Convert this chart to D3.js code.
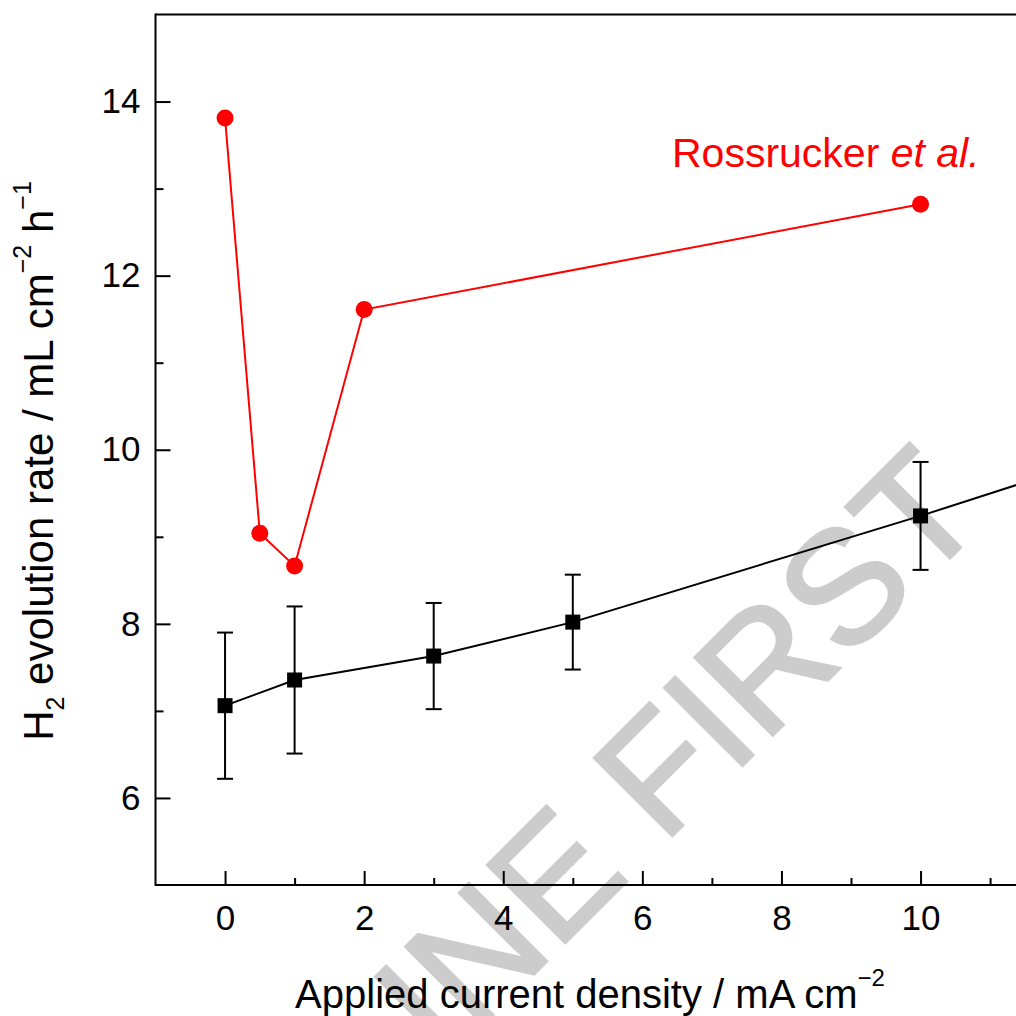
<!DOCTYPE html>
<html><head><meta charset="utf-8">
<script src="https://cdn.jsdelivr.net/npm/d3@7"></script>
<style>
html,body{margin:0;padding:0;background:#fff;overflow:hidden}
svg{display:block;font-family:"Liberation Sans",Arial,sans-serif}
</style></head><body>
<svg id="c" width="1016" height="1016"></svg>
<script>
// ---- data ----
const redX = [0, 0.5, 1, 2, 10];
const redY = [13.81, 9.04, 8.665, 11.61, 12.82];
const blackX = [0, 1, 3, 5, 10, 15];
const blackY = [7.06, 7.355, 7.63, 8.02, 9.24, 10.53];
const blackErr = [0.84, 0.845, 0.61, 0.545, 0.62, 0.6];
const xMajorTicks = [0, 2, 4, 6, 8, 10];
const xMinorTicks = [1, 3, 5, 7, 9, 11];
const yMajorTicks = [6, 8, 10, 12, 14];
const yMinorTicks = [7, 9, 11, 13];

const svg = d3.select("#c");
const x = d3.scaleLinear().domain([-1, 12]).range([155.5, 155.5 + 13 * 69.55]);
const y = d3.scaleLinear().domain([5, 15]).range([885, 14.5]);

// watermark
svg.append("text")
  .attr("transform", "translate(600,908) rotate(-45)")
  .attr("text-anchor", "middle")
  .attr("font-size", 160)
  .attr("fill", "#cccccc")
  .attr("stroke", "#cccccc")
  .attr("stroke-width", 3)
  .text("ONLINE FIRST");

// axes
const gx = svg.append("g").attr("transform", `translate(0,${y(5)})`)
  .call(d3.axisBottom(x).tickValues(xMajorTicks).tickSize(-14).tickPadding(20).tickFormat(d3.format("d")));
const gxm = svg.append("g").attr("transform", `translate(0,${y(5)})`)
  .call(d3.axisBottom(x).tickValues(xMinorTicks).tickSize(-7).tickFormat(""));
const gy = svg.append("g").attr("transform", `translate(${x(-1)},0)`)
  .call(d3.axisLeft(y).tickValues(yMajorTicks).tickSize(-15).tickPadding(15).tickFormat(d3.format("d")));
const gym = svg.append("g").attr("transform", `translate(${x(-1)},0)`)
  .call(d3.axisLeft(y).tickValues(yMinorTicks).tickSize(-8).tickFormat(""));
[gx, gxm, gy, gym].forEach(g => {
  g.selectAll("path.domain").remove();
  g.selectAll(".tick line").attr("stroke", "#000").attr("stroke-width", 2);
  g.selectAll(".tick text").attr("font-size", 35).attr("fill", "#000")
    .attr("font-family", "Liberation Sans, Arial, sans-serif");
});
// frame lines
svg.append("line").attr("x1", x(-1)).attr("x2", x(12)).attr("y1", y(5)).attr("y2", y(5)).attr("stroke", "#000").attr("stroke-width", 2);
svg.append("line").attr("x1", x(-1)).attr("x2", x(12)).attr("y1", y(15)).attr("y2", y(15)).attr("stroke", "#000").attr("stroke-width", 2);
svg.append("line").attr("x1", x(-1)).attr("x2", x(-1)).attr("y1", y(5) + 1).attr("y2", y(15) - 1).attr("stroke", "#000").attr("stroke-width", 2);

// black series
const blk = blackX.map((v, i) => ({x: v, y: blackY[i], e: blackErr[i]}));
const eb = svg.append("g").attr("stroke", "#000").attr("stroke-width", 2);
blk.forEach(d => {
  eb.append("line").attr("x1", x(d.x)).attr("x2", x(d.x)).attr("y1", y(d.y - d.e)).attr("y2", y(d.y + d.e));
  eb.append("line").attr("x1", x(d.x) - 8).attr("x2", x(d.x) + 8).attr("y1", y(d.y - d.e)).attr("y2", y(d.y - d.e));
  eb.append("line").attr("x1", x(d.x) - 8).attr("x2", x(d.x) + 8).attr("y1", y(d.y + d.e)).attr("y2", y(d.y + d.e));
});
const line = d3.line().x(d => x(d.x)).y(d => y(d.y));
svg.append("path").datum(blk).attr("d", line).attr("fill", "none").attr("stroke", "#000").attr("stroke-width", 2);
svg.append("g").selectAll("rect").data(blk).join("rect")
  .attr("x", d => x(d.x) - 7.5).attr("y", d => y(d.y) - 7.5).attr("width", 15).attr("height", 15).attr("fill", "#000");

// red series
const red = redX.map((v, i) => ({x: v, y: redY[i]}));
svg.append("path").datum(red).attr("d", line).attr("fill", "none").attr("stroke", "#ff0000").attr("stroke-width", 2);
svg.append("g").selectAll("circle").data(red).join("circle")
  .attr("cx", d => x(d.x)).attr("cy", d => y(d.y)).attr("r", 8.5).attr("fill", "#ff0000");

// annotation
const ann = svg.append("text").attr("x", 672).attr("y", 167).attr("font-size", 41).attr("fill", "#ff0000");
ann.append("tspan").text("Rossrucker ");
ann.append("tspan").attr("font-style", "italic").text("et al.");

// x title
const xt = svg.append("text").attr("x", 590).attr("y", 1008).attr("text-anchor", "middle").attr("font-size", 40).attr("fill", "#000");
xt.append("tspan").text("Applied current density / mA cm");
xt.append("tspan").attr("font-size", 24).attr("dy", -22).text("\u22122");

// y title
const yt = svg.append("text").attr("transform", "translate(53,461) rotate(-90)").attr("text-anchor", "middle").attr("font-size", 42).attr("fill", "#000");
yt.append("tspan").text("H");
yt.append("tspan").attr("font-size", 25).attr("dy", 11).text("2");
yt.append("tspan").attr("dy", -11).text(" evolution rate / mL cm");
yt.append("tspan").attr("font-size", 25).attr("dy", -22).text("\u22122");
yt.append("tspan").attr("dy", 22).text(" h");
yt.append("tspan").attr("font-size", 25).attr("dy", -22).text("\u22121");
</script>
</body></html>
